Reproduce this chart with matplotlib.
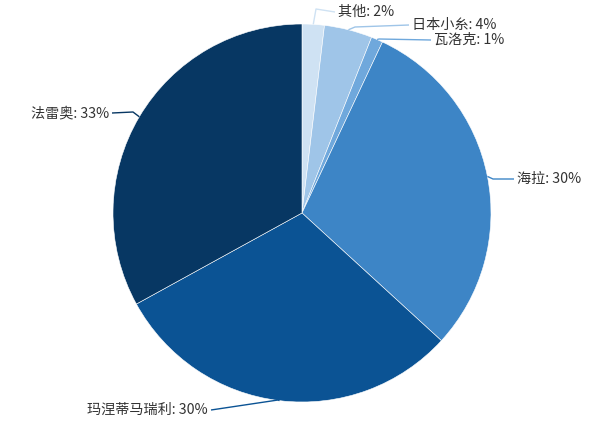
import matplotlib
matplotlib.use("Agg")
import matplotlib.pyplot as plt
import numpy as np

plt.rcParams['font.family'] = ['Noto Sans CJK SC', 'DejaVu Sans']

categories = ["其他", "日本小糸", "瓦洛克", "海拉", "玛涅蒂马瑞利", "法雷奥"]
values = [1.9, 4.1, 1.0, 29.8, 30.2, 33.0]
labels = ["其他: 2%", "日本小糸: 4%", "瓦洛克: 1%", "海拉: 30%", "玛涅蒂马瑞利: 30%", "法雷奥: 33%"]
colors = ["#cfe2f3", "#9fc5e8", "#6fa8dc", "#3d85c6", "#0b5394", "#073763"]

W, H = 612, 432
fig = plt.figure(figsize=(W / 100, H / 100), dpi=100)
ax = fig.add_axes([0, 0, 1, 1])

cx, cy, R = 302, H - 213, 189
wedges, _ = ax.pie(values, colors=colors, startangle=90, counterclock=False,
                   center=(cx, cy), radius=R, frame=True,
                   wedgeprops=dict(edgecolor='white', linewidth=0.4))
ax.set_xlim(0, W)
ax.set_ylim(0, H)
ax.set_aspect('equal')
ax.axis('off')

# label layout: (elbow point px, text anchor px, ha)
layout = [
    ((316, 9), (338, 12), 'left'),
    ((355, 27), (412, 25), 'left'),
    ((379, 39), (434, 40), 'left'),
    ((493, 179), (517, 179), 'left'),
    ((278, 400), (208, 410), 'right'),
    ((133, 112), (109, 113), 'right'),
]

for w, lab, col, (elb, txt, ha) in zip(wedges, labels, colors, layout):
    ang = np.deg2rad((w.theta1 + w.theta2) / 2)
    ex, ey = cx + R * np.cos(ang), cy + R * np.sin(ang)
    bx, by = elb[0], H - elb[1]
    tx, ty = txt[0], H - txt[1]
    lx = tx - 3 if ha == 'left' else tx + 3
    ax.plot([ex, bx, lx], [ey, by, ty], color=col, lw=1, solid_capstyle='butt')
    ax.text(tx, ty, lab, ha=ha, va='center', fontsize=10.2, color='#333333')

fig.savefig("out.png", dpi=100)
